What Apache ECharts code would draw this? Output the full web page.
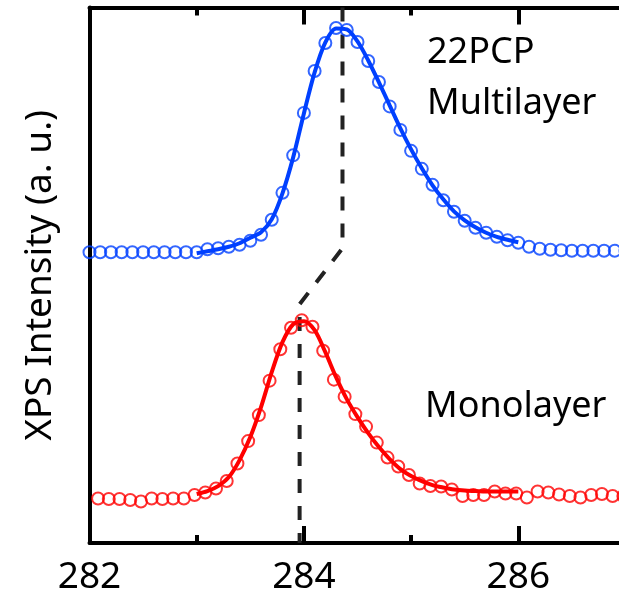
<!DOCTYPE html>
<html>
<head>
<meta charset="utf-8">
<script src="https://cdn.jsdelivr.net/npm/echarts@6/dist/echarts.min.js"></script>
<style>
  html, body { margin: 0; padding: 0; background: #fff; }
  #xps { width: 619px; height: 600px; }
</style>
</head>
<body>
<div id="xps"></div>
<script>
// binding energy grid (eV), 0.1 eV steps
function energies(start, n) {
    var arr = [];
    for (var i = 0; i < n; i++) {
        arr.push(+(start + 0.1 * i).toFixed(2));
    }
    return arr;
}

// 22PCP multilayer - measured points
var multiE = energies(282.0, 51);
var multiData = [291, 291, 291, 291, 291, 291, 291, 291, 291, 291, 291,
    294, 295, 296.5, 298.5, 302.5, 308.5, 323.5, 350.5, 388, 430.5,
    472.5, 500.5, 515.5, 513.5, 501.5, 482.5, 461.5, 437, 413.5, 392.5,
    374.5, 358.5, 343, 331.5, 322.5, 315.5, 310.5, 306.5, 303, 300.5,
    296.5, 294.5, 293.5, 293, 292.5, 292.5, 292.5, 292.5, 292.5, 292.5];
// multilayer fit
var multiFitE = energies(283.0, 31);
var multiFit = [290, 292, 294, 296.5, 300, 305.5, 311, 324, 350, 386,
    430, 471, 501, 515, 514, 502, 483, 461, 438, 415,
    394, 375, 358, 344, 332, 323, 316, 310.5, 306.5, 303.5, 301];

// monolayer - measured points
var monoE = energies(282.08, 50);
var monoData = [44.5, 44, 44, 43, 41.5, 44.5, 44, 44.5, 44.5, 48,
    50.5, 54.5, 62, 79.5, 102, 128, 162.5, 194, 215.5, 223,
    216.5, 192.5, 163.5, 146.5, 129, 116.5, 100.5, 85.5, 76.5, 68,
    59.5, 57, 56.5, 53.5, 47, 48, 48, 51.5, 49.5, 49.5,
    45.5, 51.5, 50.5, 48.5, 47, 45.5, 48, 49, 47, 47];
// monolayer fit
var monoFitE = energies(283.0, 31);
var monoFit = [49, 52, 57, 66, 83, 106, 136, 171, 201, 219,
    222, 213, 191, 166, 144, 126, 110, 96, 84, 74,
    67, 62, 58, 55.5, 53.5, 52.5, 52, 51.5, 51.5, 51.5, 51.5];

// peak shift guide
var shiftE = [284.36, 284.36, 283.96, 283.96];
var shiftY = [536, 295, 239, 0];

var xTicks = [282, 284, 286];

function pairs(xs, ys) {
    var out = [];
    for (var i = 0; i < ys.length; i++) out.push([xs[i], ys[i]]);
    return out;
}

var FONT = 'Noto Sans';
var BLUE = '#0040ff', RED = '#ff0000';

function xAxisOf(pos, interval, len, labels) {
    return {
        type: 'value', position: pos, min: 282, max: 287, interval: interval,
        axisLine: { show: interval == 2, lineStyle: { color: '#000', width: 4 } },
        axisTick: { show: true, inside: true, length: len, lineStyle: { color: '#000', width: 4 } },
        axisLabel: {
            show: labels, margin: 16, color: '#000', fontFamily: FONT, fontSize: 37,
            formatter: function (v) { return xTicks.indexOf(v) >= 0 ? String(v) : ''; }
        },
        splitLine: { show: false }
    };
}

var chart = echarts.init(document.getElementById('xps'));
var option = {
    animation: false,
    grid: { left: 89.5, width: 536, top: 7.5, height: 535.5, outerBoundsMode: 'none', containLabel: false },
    xAxis: [
        xAxisOf('bottom', 2, 17, true),
        xAxisOf('bottom', 1, 8, false),
        xAxisOf('top', 2, 17, false),
        xAxisOf('top', 1, 8, false)
    ],
    yAxis: {
        type: 'value', min: 0, max: 536,
        axisLine: { show: true, lineStyle: { color: '#000', width: 4 } },
        axisTick: { show: false },
        axisLabel: { show: false },
        splitLine: { show: false },
        name: 'XPS Intensity (a. u.)',
        nameLocation: 'middle',
        nameGap: 31,
        nameTextStyle: { color: '#000', fontFamily: FONT, fontSize: 37 }
    },
    series: [
        {
            type: 'line', data: pairs(shiftE, shiftY), symbol: 'none',
            lineStyle: { color: '#222', width: 4, type: [14, 13] }, z: 1
        },
        {
            type: 'line', data: pairs(multiFitE, multiFit), smooth: 0.3, symbol: 'none',
            lineStyle: { color: BLUE, width: 4 }, z: 2
        },
        {
            type: 'scatter', data: pairs(multiE, multiData), symbol: 'circle', symbolSize: 12,
            itemStyle: { color: 'rgba(0,0,0,0)', borderColor: BLUE, borderWidth: 2 }, z: 3
        },
        {
            type: 'line', data: pairs(monoFitE, monoFit), smooth: 0.3, symbol: 'none',
            lineStyle: { color: RED, width: 4 }, z: 2
        },
        {
            type: 'scatter', data: pairs(monoE, monoData), symbol: 'circle', symbolSize: 12,
            itemStyle: { color: 'rgba(0,0,0,0)', borderColor: RED, borderWidth: 2 }, z: 3
        }
    ],
    graphic: [
        { type: 'text', left: 427, top: 35, style: { text: '22PCP', font: '36px "Noto Sans"', fill: '#000' } },
        { type: 'text', left: 427, top: 86, style: { text: 'Multilayer', font: '36px "Noto Sans"', fill: '#000' } },
        { type: 'text', left: 425, top: 389, style: { text: 'Monolayer', font: '36px "Noto Sans"', fill: '#000' } }
    ]
};
chart.setOption(option);
</script>
</body>
</html>
